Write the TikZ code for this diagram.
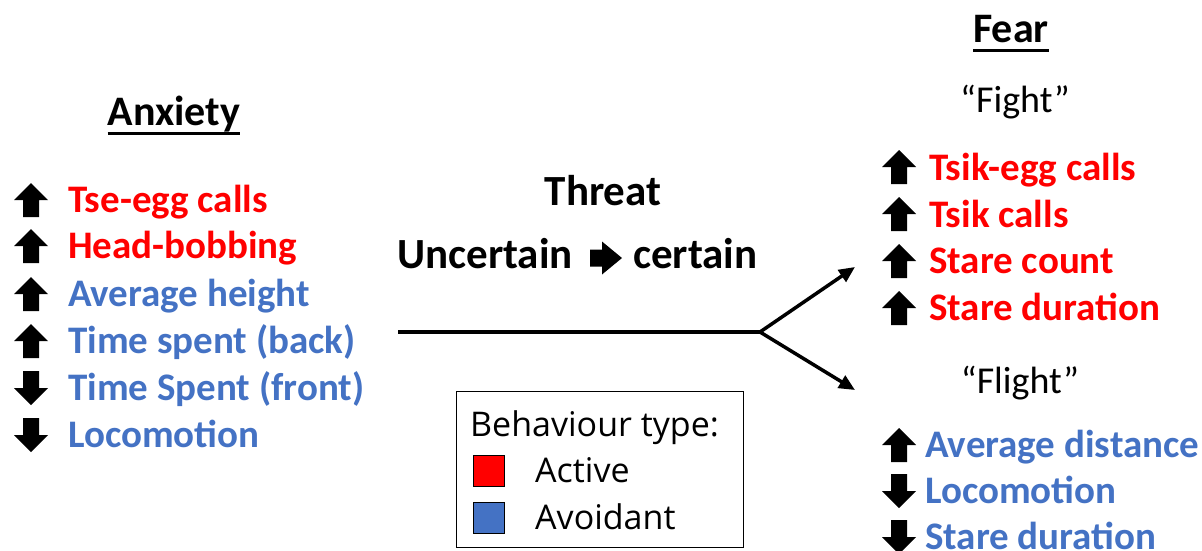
\documentclass[tikz,border=0pt]{standalone}
\usepackage{fontspec}
\setmainfont{Carlito}
\newfontfamily\legfont{Open Sans}
\usetikzlibrary{arrows.meta}
\definecolor{actred}{HTML}{FF0000}
\definecolor{avblue}{HTML}{4472C4}
\begin{document}
\begin{tikzpicture}[x=1pt,y=-1pt,
  itemtxt/.style={anchor=base west, inner sep=0, font=\fontsize{39}{42}\selectfont\bfseries},
  redtxt/.style={itemtxt, text=actred},
  bluetxt/.style={itemtxt, text=avblue},
  titletxt/.style={anchor=base, inner sep=0, font=\fontsize{42}{44}\selectfont\bfseries},
  threattxt/.style={anchor=base, inner sep=0, font=\fontsize{43}{45}\selectfont\bfseries},
  quotetxt/.style={anchor=base, inner sep=0, font=\fontsize{38}{40}\selectfont},
  legtxt/.style={anchor=base west, inner sep=0, font=\legfont\fontsize{34}{36}\selectfont},
  legsq/.style={draw=black, line width=1.2pt, minimum size=31pt, inner sep=0},
  uparr/.pic={\fill[black] (0,-17) -- (17,0) -- (8,0) -- (8,17) -- (-8,17) -- (-8,0) -- (-17,0) -- cycle;},
  dnarr/.pic={\fill[black] (0,17) -- (17,0) -- (8,0) -- (8,-17) -- (-8,-17) -- (-8,0) -- (-17,0) -- cycle;},
  rtarr/.pic={\fill[black] (32,0) -- (12,-16.5) -- (12,-8.5) -- (0,-8.5) -- (0,8.5) -- (12,8.5) -- (12,16.5) -- cycle;},
  flow/.style={line width=3.5pt, -{Triangle[length=16pt,width=14pt]}}
]
\useasboundingbox (0,0) rectangle (1202,550);

% Anxiety column
\node[titletxt] (anx) at (174,125) {Anxiety};
\draw[line width=3pt] ([yshift=-8]anx.base west) -- ([yshift=-8]anx.base east);
\pic at (31,200) {uparr};
\node[redtxt] (a1) at (68,212) {Tse-egg calls};
\pic at (31,246) {uparr};
\node[redtxt] (a2) at (68,258) {Head-bobbing};
\pic at (31,294) {uparr};
\node[bluetxt] (a3) at (68,306) {Average height};
\pic at (31,341) {uparr};
\node[bluetxt] (a4) at (68,353) {Time spent (back)};
\pic at (31,388) {dnarr};
\node[bluetxt] (a5) at (68,400) {Time Spent (front)};
\pic at (31,435) {dnarr};
\node[bluetxt] (a6) at (68,447) {Locomotion};

% Threat
\node[threattxt] (threat) at (603,205) {Threat};
\node[threattxt, anchor=base east] (unc) at (573,268) {Uncertain};
\pic at (590,258) {rtarr};
\node[threattxt, anchor=base west] (cert) at (633,268) {certain};

\coordinate (start) at (398,332);
\coordinate (fork) at (760,332);
\coordinate (fightend) at (855,267);
\coordinate (flightend) at (855,390);
\draw[line width=3.5pt] (start) -- (fork);
\draw[flow] (fork) -- (fightend);
\draw[flow] (fork) -- (flightend);

% Fear column
\node[titletxt] (fear) at (1011,42) {Fear};
\draw[line width=3pt] ([yshift=-8]fear.base west) -- ([yshift=-8]fear.base east);
\node[quotetxt] (fight) at (1015,112) {“Fight”};
\pic at (899,167) {uparr};
\node[redtxt] (f1) at (929,180) {Tsik-egg calls};
\pic at (899,214) {uparr};
\node[redtxt] (f2) at (929,227) {Tsik calls};
\pic at (899,261) {uparr};
\node[redtxt] (f3) at (929,273) {Stare count};
\pic at (899,308) {uparr};
\node[redtxt] (f4) at (929,320) {Stare duration};

\node[quotetxt] (flight) at (1020,393) {“Flight”};
\pic at (899,445) {uparr};
\node[bluetxt] (g1) at (925,457) {Average distance};
\pic at (899,491) {dnarr};
\node[bluetxt] (g2) at (925,503) {Locomotion};
\pic at (899,537) {dnarr};
\node[bluetxt] (g3) at (925,549) {Stare duration};

% Legend
\node[draw=black, line width=1.2pt, anchor=north west, minimum width=287pt, minimum height=156pt, inner sep=0] (legend) at (456,391) {};
\node[legtxt] (legtitle) at (470,436) {Behaviour type:};
\node[legsq, fill=actred] (sqred) at (489,471) {};
\node[legtxt] (legact) at (535,482) {Active};
\node[legsq, fill=avblue] (sqblue) at (489,518) {};
\node[legtxt] (legav) at (535,529) {Avoidant};
\end{tikzpicture}
\end{document}
